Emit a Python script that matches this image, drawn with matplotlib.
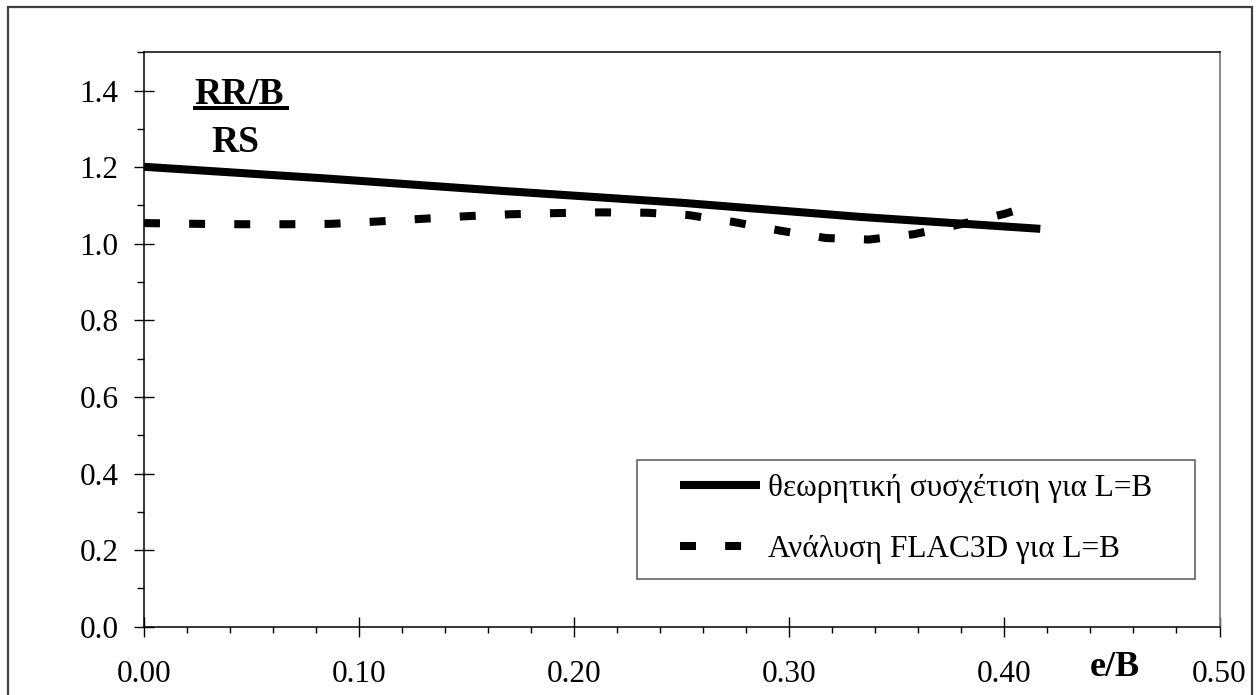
import matplotlib
matplotlib.use("Agg")
import matplotlib.pyplot as plt
from matplotlib.ticker import MultipleLocator, FormatStrFormatter
from matplotlib.patches import Rectangle
from matplotlib.lines import Line2D

plt.rcParams['font.family'] = ['Liberation Serif', 'DejaVu Serif']
plt.rcParams['lines.scale_dashes'] = False

# Data
theory_x = [0.0, 0.0833, 0.1667, 0.25, 0.3333, 0.4167]
theory_y = [1.201, 1.171, 1.138, 1.107, 1.070, 1.039]

flac_x = [0.0, 0.025, 0.046, 0.067, 0.087, 0.108, 0.129, 0.150, 0.170, 0.191,
          0.212, 0.234, 0.253, 0.274, 0.296, 0.317, 0.337, 0.358, 0.378, 0.400, 0.404]
flac_y = [1.054, 1.052, 1.051, 1.051, 1.052, 1.058, 1.065, 1.072, 1.077, 1.080,
          1.082, 1.081, 1.075, 1.057, 1.034, 1.015, 1.011, 1.025, 1.049, 1.078, 1.085]

label_theory = "θεωρητική συσχέτιση για L=B"
label_flac = "Ανάλυση FLAC3D για L=B"

W, H = 1259, 695
fig = plt.figure(figsize=(W / 100, H / 100), dpi=100)
ax = fig.add_axes([144 / W, 1 - 626.7 / H, (1219.5 - 144) / W, (626.7 - 52.3) / H])

FS = 22.5
lw = 5.8
ax.plot(theory_x, theory_y, color='black', lw=lw, solid_capstyle='butt',
        label=label_theory, clip_on=False)
ax.plot(flac_x, flac_y, color='black', lw=lw, dashes=(11.5, 21.0),
        dash_capstyle='butt', label=label_flac, clip_on=False)

ax.set_xlim(0, 0.5)
ax.set_ylim(0, 1.5)
ax.xaxis.set_major_locator(MultipleLocator(0.1))
ax.xaxis.set_minor_locator(MultipleLocator(0.02))
ax.yaxis.set_major_locator(MultipleLocator(0.2))
ax.yaxis.set_minor_locator(MultipleLocator(0.1))
ax.xaxis.set_major_formatter(FormatStrFormatter('%.2f'))
ax.yaxis.set_major_formatter(FormatStrFormatter('%.1f'))
ax.set_yticks([0.0, 0.2, 0.4, 0.6, 0.8, 1.0, 1.2, 1.4])

ax.tick_params(axis='both', which='major', direction='inout', length=14.4,
               width=1.0, color='black', labelsize=FS)
ax.tick_params(axis='y', which='major', pad=11.0)
ax.tick_params(axis='x', which='major', pad=17.0)
ax.tick_params(axis='y', which='minor', direction='out', length=5.0, width=1.0)
ax.tick_params(axis='x', which='minor', direction='out', length=4.3, width=1.0)

for s in ['left', 'bottom', 'top']:
    ax.spines[s].set_color('black')
    ax.spines[s].set_linewidth(1.1)
ax.spines['right'].set_color('#808080')
ax.spines['right'].set_linewidth(1.3)

# y label (fraction) at top-left
ax.text(0.0883, 0.910, 'RR/B', transform=ax.transAxes, ha='center', va='baseline',
        fontsize=27, fontweight='bold')
ax.add_line(Line2D([0.0456, 0.1348], [0.903, 0.903], transform=ax.transAxes,
                   color='black', lw=2.9, solid_capstyle='butt'))
ax.text(0.0846, 0.826, 'RS', transform=ax.transAxes, ha='center', va='baseline',
        fontsize=27, fontweight='bold')

# x label
ax.text(0.9029, -0.0855, 'e/B', transform=ax.transAxes, ha='center', va='baseline',
        fontsize=26, fontweight='bold', clip_on=False)

# legend
leg = ax.legend(loc='center left', bbox_to_anchor=(0.4984, 0.1875), frameon=False,
                borderpad=0, borderaxespad=0, handlelength=2.56, handletextpad=0.26,
                labelspacing=1.0, fontsize=FS)
ax.add_patch(Rectangle(((637 - 144) / 1075.5, (626.7 - 579) / 574.4),
                       (1195 - 637) / 1075.5, (579 - 460) / 574.4,
                       transform=ax.transAxes, fill=False, edgecolor='#707070',
                       lw=1.3, zorder=1))

# figure border
fig.patches.append(Rectangle((7.5 / W, -0.05), (1252 - 7.5) / W, 1.05 - 7.3 / H,
                             transform=fig.transFigure, fill=False,
                             edgecolor='#404040', lw=1.6))

fig.savefig('out.png', dpi=100)
